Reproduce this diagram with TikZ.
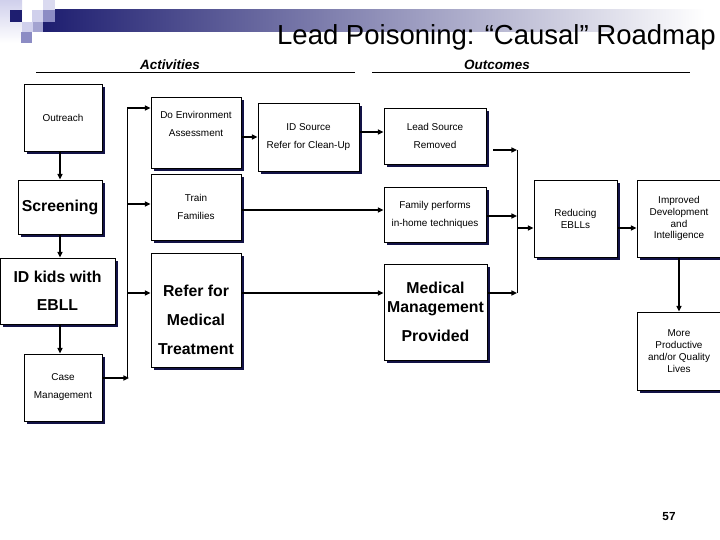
\documentclass[tikz,border=0pt]{standalone}
\usepackage{fontspec}
\setmainfont{Liberation Sans}
\usetikzlibrary{calc, positioning, shadows}
\usetikzlibrary{arrows.meta}
\definecolor{navy}{RGB}{30,30,112}
\definecolor{shadenavy}{RGB}{18,18,70}
\definecolor{bandmid}{RGB}{185,185,208}
\definecolor{lavpale}{RGB}{208,208,236}
\definecolor{lavmid}{RGB}{140,140,196}

\begin{document}
\begin{tikzpicture}[x=0.03cm, y=-0.03cm]
\tikzset{
  box/.style 2 args={draw, fill=white, line width=0.6pt, minimum width=#1*0.03cm, minimum height=#2*0.03cm, inner sep=0pt, align=center, drop shadow={shadow xshift=0.08cm, shadow yshift=-0.08cm, fill=shadenavy, opacity=1}},
  small/.style={font=\fontsize{8.5}{15.4}\selectfont},
  tight/.style={font=\fontsize{8.5}{10.2}\selectfont},
  big/.style={font=\fontsize{13.5}{24.6}\selectfont\bfseries},
  head/.style={font=\fontsize{11.5}{14}\selectfont\bfseries\itshape},
  conn/.style={line width=1.5pt, -{Triangle[length=1.7mm, width=1.5mm]}},
  bus/.style={line width=0.8pt},
}
\useasboundingbox (0,0) rectangle (720,540);

% corner squares and band
\shade[top color=lavpale, bottom color=white] (0,0) rectangle (22,43);
\shade[left color=navy, middle color=bandmid, right color=white] (43,10) rectangle (705,32);
\fill[navy] (10,10) rectangle (22,22);
\fill[lavpale] (32,10) rectangle (43,22);
\fill[lavpale!80] (43,0) rectangle (55,10);
\fill[lavmid] (43,10) rectangle (55,22);
\fill[lavpale] (22,22) rectangle (33,32);
\fill[lavmid!80] (33,22) rectangle (43,32);
\fill[lavmid] (21,32) rectangle (32,43);

\node[font=\fontsize{23.5}{28}\selectfont, anchor=base west] (title) at (273,45) {Lead Poisoning: “Causal” Roadmap};

\node[head] (act) at (170,65) {Activities};
\node[head] (outc) at (497,65) {Outcomes};
\draw[line width=0.6pt] (36,72) -- (355,72);
\draw[line width=0.6pt] (372,72) -- (690,72);

% activities
\node[box={78}{67}, small] (outreach) at (63,117.5) {Outreach};
\node[box={84}{54}, big] (screen) at (60,207) {Screening};
\node[box={115}{66}, big] (idkids) at (57.5,291) {ID kids with\\[-1pt]EBLL};
\node[box={78}{67}, small] (casemg) at (63,387.5) {Case\\Management};
\node[box={90}{71}] (doenv) at (196,132.5) {};
\node[small, align=center] (doenvtxt) at ($(doenv)+(0,-9)$) {Do Environment\\Assessment};
\node[box={90}{66}, small] (train) at (196,207) {Train\\Families};
\node[box={90}{114}] (refer) at (196,310) {};
\node[big, align=center] (refertxt) at ($(refer)+(0,10)$) {Refer for\\Medical\\Treatment};
\node[box={101}{68}, small] (idsrc) at (308.5,137) {ID Source\\Refer for Clean-Up};

% outcomes
\node[box={102}{56}, small] (leadrm) at (435,136) {Lead Source\\Removed};
\node[box={102}{55}, small] (family) at (435,214.5) {Family performs\\in-home techniques};
\node[box={103}{96}, big] (medmg) at (435.5,312) {Medical\\[-8.4pt]Management\\Provided};
\node[box={83}{77}, small] (reduce) at (575.5,218.5) {Reducing\\[-5.2pt]EBLLs};
\node[box={84}{77}, tight] (improved) at (679,218.5) {Improved\\Development\\and\\Intelligence};
\node[box={84}{78}, tight] (more) at (679,351) {More\\Productive\\and/or Quality\\Lives};

\node[font=\fontsize{10}{12}\selectfont\bfseries] (pagenum) at (669,517) {57};

% left column
\draw[conn] (outreach.south -| screen) -- (screen.north);
\draw[conn] (screen.south) -- (screen.south |- idkids.north);
\draw[conn] (idkids.south -| screen) -- (casemg.north -| screen);

% bus into activities
\coordinate (b1) at (127,108);
\coordinate (b2) at (127,204);
\coordinate (b3) at (127,293);
\coordinate (b4) at (129,378);
\draw[bus] (b1) -- (127,378);
\draw[conn] (b1) -- (b1 -| doenv.west);
\draw[conn] (b2) -- (b2 -| train.west);
\draw[conn] (b3) -- (b3 -| refer.west);
\draw[conn] (casemg.east |- b4) -- (b4);

% activities to outcomes
\draw[conn] (doenv.east |- idsrc) -- (idsrc.west);
\draw[conn] ($(idsrc.east)+(0,-5)$) coordinate (s1) -- (s1 -| leadrm.west);
\draw[conn] ($(train.east)+(0,3)$) coordinate (t1) -- (t1 -| family.west);
\draw[conn] (b3 -| refer.east) -- (b3 -| medmg.west);

% collector
\coordinate (c1) at (517,150);
\coordinate (c2) at (517,216);
\coordinate (c3) at (517,293);
\coordinate (c4) at (517,228);
\draw[bus] (c1) -- (c3);
\draw[conn] ($(leadrm.east |- c1)+(7,0)$) -- (c1);
\draw[conn] (family.east |- c2) -- (c2);
\draw[conn] (medmg.east |- c3) -- (c3);
\draw[conn] (c4) -- (c4 -| reduce.west);
\draw[conn] (reduce.east |- c4) -- (c4 -| improved.west);
\draw[conn] (improved.south) -- (more.north);
\end{tikzpicture}
\end{document}
